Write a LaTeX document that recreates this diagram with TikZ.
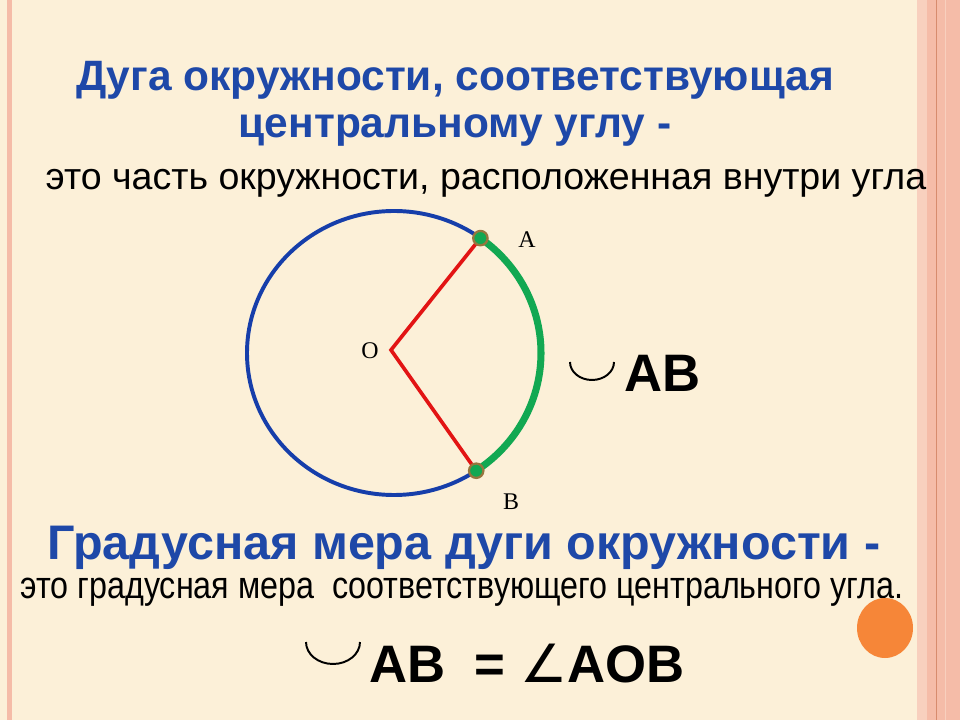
\documentclass[tikz,border=0pt]{standalone}
\usepackage{fontspec}
\setmainfont{Liberation Sans}
\newfontfamily\labelfont{Liberation Serif}
\newfontfamily\narrowfont[FakeStretch=0.85]{Liberation Sans}
\newfontfamily\symbolfont{DejaVu Sans}
\usetikzlibrary{calc}

\definecolor{paper}{RGB}{252,240,216}
\definecolor{titleblue}{RGB}{30,72,168}
\definecolor{ringblue}{RGB}{22,62,170}
\definecolor{arcgreen}{RGB}{18,168,82}
\definecolor{radred}{RGB}{226,20,20}
\definecolor{stripepink}{RGB}{245,188,168}
\definecolor{stripepale}{RGB}{248,208,190}
\definecolor{stripeline}{RGB}{215,140,110}
\definecolor{dotbrown}{RGB}{150,118,62}
\definecolor{ballorange}{RGB}{246,134,56}

\tikzset{
  headline/.style={font=\bfseries\fontsize{30.2}{34}\selectfont, text=titleblue},
  bigheadline/.style={font=\bfseries\fontsize{34.5}{38}\selectfont, text=titleblue},
  bodyline/.style={font=\fontsize{26.7}{30}\selectfont},
  narrowline/.style={font=\narrowfont\fontsize{27}{31}\selectfont},
  formula/.style={font=\bfseries\fontsize{37.5}{42}\selectfont, anchor=west, inner sep=0pt},
  ptlabel/.style={font=\labelfont\fontsize{17}{19}\selectfont},
  ptdot/.style={circle, fill=arcgreen, draw=dotbrown, line width=1.6pt, minimum size=0.36cm, inner sep=0pt},
}

\begin{document}
\begin{tikzpicture}[x=0.025cm, y=-0.025cm]
	% background and side stripes
	\fill[paper] (0,0) rectangle (960,720);
	\useasboundingbox (0,0) rectangle (960,720);
	\fill[stripepink] (7,0) rectangle (12,720);
	\fill[stripepale] (917,0) rectangle (927,720);
	\fill[stripepink] (927,0) rectangle (960,720);
	\draw[stripeline, line width=0.7pt] (936,0) -- (936,720);
	\draw[stripepale, line width=0.7pt] (945,0) -- (945,720);

	% headings
	\node[headline] (head1) at (455,80) {Дуга окружности, соответствующая};
	\node[headline] (head2) at (455,130) {центральному углу -};
	\node[bodyline] (def1) at (486,183) {это часть окружности, расположенная внутри угла};

	% circle, arc and radii
	\coordinate (C) at (394,353);
	\coordinate (O) at (391,350);
	\coordinate (A) at ($(C)+(-54:147 and 142)$);
	\coordinate (B) at ($(C)+(56:147 and 142)$);
	\draw[ringblue, line width=2.8pt] (C) ellipse [x radius=147, y radius=142];
	\draw[arcgreen, line width=5pt] (A) arc [start angle=-54, end angle=56, x radius=147, y radius=142];
	\draw[radred, line width=2.6pt, line join=miter] (A) -- (O) -- (B);
	\node[ptdot] (dotA) at (A) {};
	\node[ptdot] (dotB) at (B) {};
	\node[ptlabel] (labO) at (370,351) {O};
	\node[ptlabel] (labA) at (527,240) {A};
	\node[ptlabel] (labB) at (511,502) {B};

	% arc notation
	\coordinate (cup1) at (570,362);
	\draw[line width=1.4pt] (cup1) arc [start angle=180, end angle=0, x radius=22, y radius=18];
	\node[formula] (ab1) at (624,373) {AB};

	% second part
	\node[bigheadline] (head3) at (464,548) {Градусная мера дуги окружности -};
	\node[narrowline] (def2) at (462,592) {это градусная мера\ \ соответствующего центрального угла.};

	\coordinate (cup2) at (306,642);
	\draw[line width=1.4pt] (cup2) arc [start angle=180, end angle=0, x radius=27, y radius=22];
	\node[formula] (ab2) at (369,664) {AB\ \ = {\symbolfont\mdseries ∠}AOB};

	% orange ball
	\fill[ballorange] (885,628) ellipse [x radius=28, y radius=30];
\end{tikzpicture}
\end{document}
